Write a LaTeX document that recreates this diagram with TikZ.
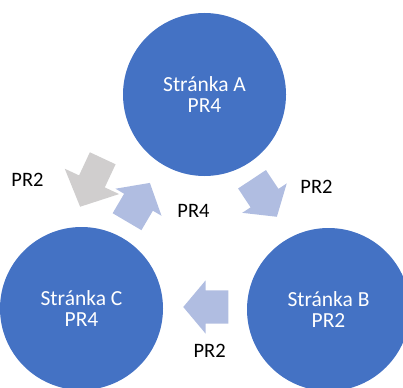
\documentclass[tikz,border=0pt]{standalone}
\usepackage{fontspec}
\setmainfont{Carlito}
\usetikzlibrary{shapes.arrows}
\definecolor{pageblue}{HTML}{4472C4}
\definecolor{flowblue}{RGB}{176,189,225}
\definecolor{flowgray}{RGB}{208,206,206}
\tikzset{
    page/.style = {circle,fill=pageblue,text=white,inner sep=0,minimum size=163pt,
        align=center,font=\fontsize{21.5}{21}\selectfont},
    flow/.style = {single arrow,fill=flowblue,text height=0pt,text depth=0pt,
        inner xsep=0,inner ysep=16.5pt,minimum height=45pt,anchor=tip,
        single arrow head extend=10pt,single arrow tip angle=100},
    bigflow/.style = {flow,fill=flowgray,inner ysep=14pt,minimum height=53.5pt,
        single arrow head extend=15.8pt,single arrow tip angle=94},
    lbl/.style = {anchor=base,inner sep=0,font=\fontsize{20.5}{20.5}\selectfont}
}
\begin{document}
\begin{tikzpicture}[x=1pt,y=-1pt]
    \useasboundingbox (0,0) rectangle (403,387);
    \clip (0,0) rectangle (403,387);
    % Pages
    \node[page] (A) at (204.5,94.5) {Stránka A\\PR4};
    \node[page] (B) at (328.5,309.5) {Stránka B\\PR2};
    \node[page] (C) at (81.5,308.5) {Stránka C\\PR4};
    % Flows (placed by their tips)
    \node[flow,rotate=-56.5] (ab) at (277,217) {};
    \node[flow,rotate=180] (bc) at (183,307) {};
    \node[flow,rotate=59.5] (ca) at (150,182.7) {};
    \node[bigflow,rotate=-115] (gc) at (80,207) {};
    % Labels
    \node[lbl] (lab) at (316.5,193) {PR2};
    \node[lbl] (lbc) at (209.7,357.7) {PR2};
    \node[lbl] (lca) at (193.5,217) {PR4};
    \node[lbl] (lgc) at (27.5,186.7) {PR2};
\end{tikzpicture}
\end{document}
